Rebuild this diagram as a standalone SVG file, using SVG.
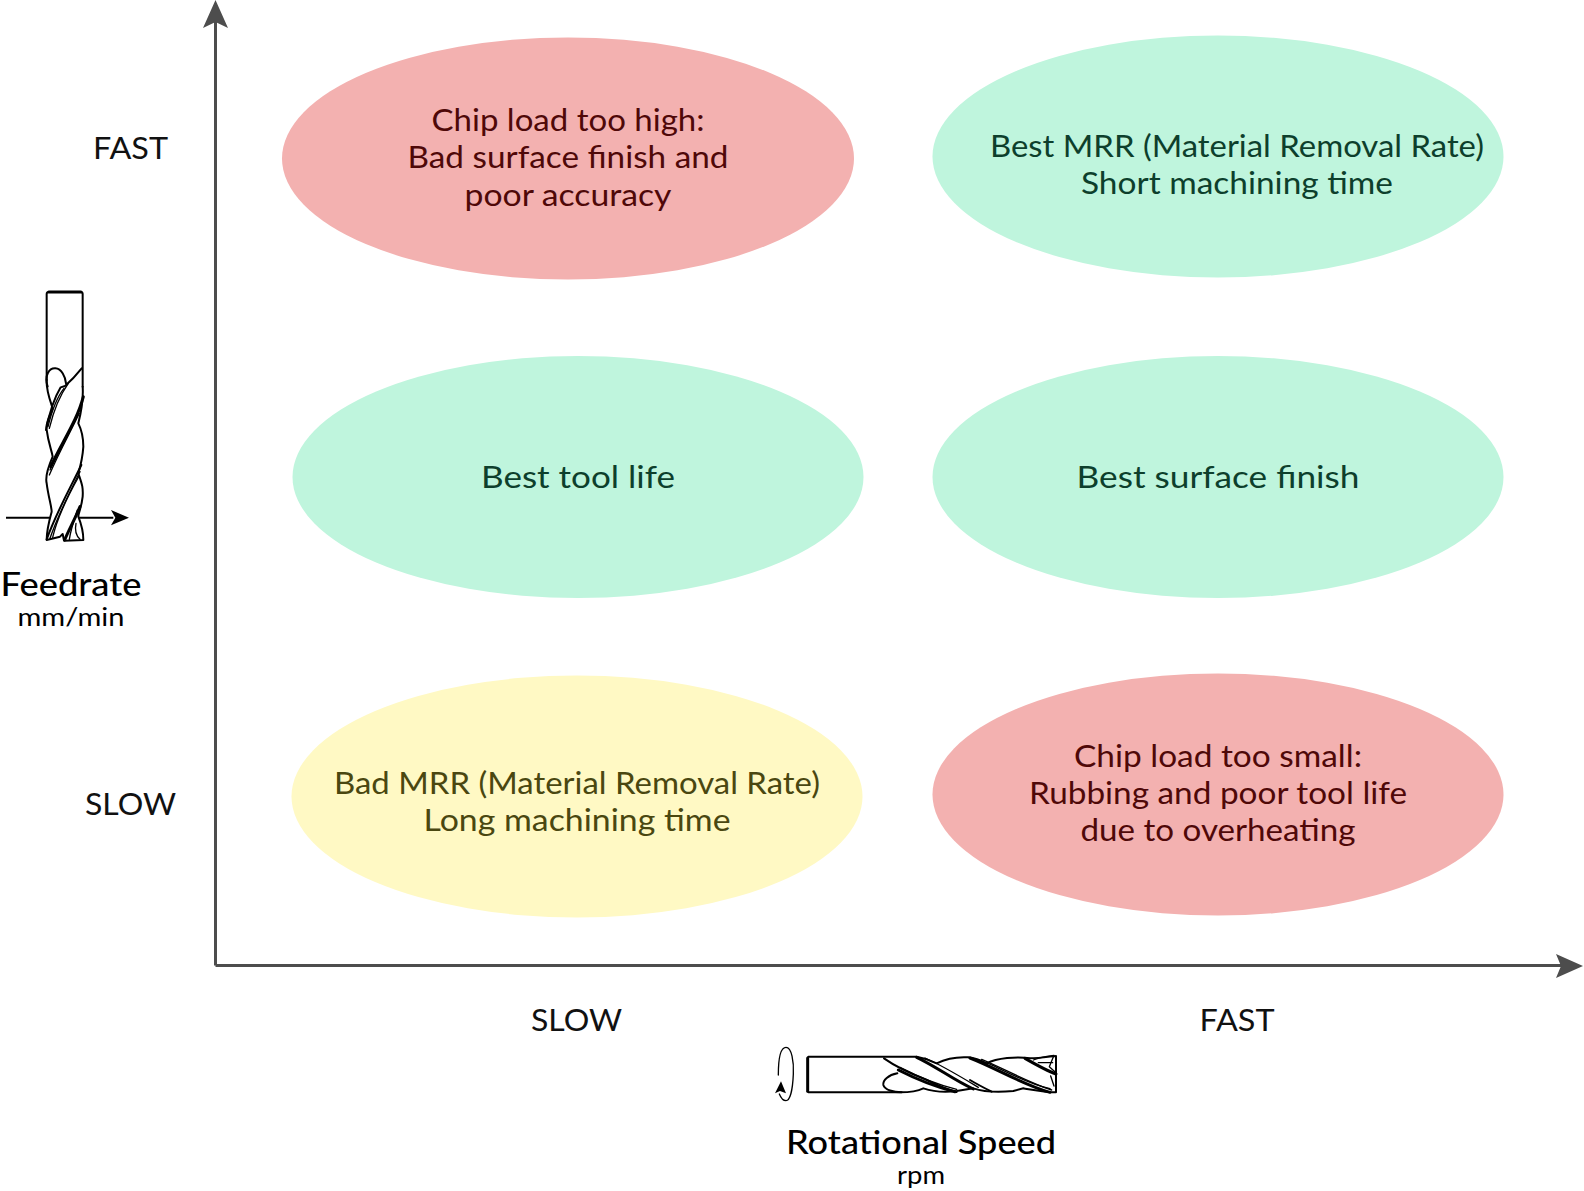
<svg xmlns="http://www.w3.org/2000/svg" width="1584" height="1191" viewBox="0 0 1584 1191">
<style>
text{font-family:"Lato","Open Sans","Liberation Sans",sans-serif;font-size:31px;text-anchor:middle}
.bad{fill:#f3b1b0}.good{fill:#bff5dd}.warn{fill:#fff9c4}
.tb{fill:#4f0808}.tg{fill:#0d3f2c}.ty{fill:#4a4710}.tk{fill:#111}
.h{font-weight:500;font-size:33px;fill:#000}.u{font-size:25px;fill:#000}
.axis{fill:none;stroke:#4d4d4d;stroke-width:3}
.t{fill:none;stroke:#000;stroke-width:6;stroke-linecap:round;stroke-linejoin:round}
.t2{stroke-width:4}.t3{stroke-width:9}.w{fill:#fff;stroke:none}
</style>
<g id="connectors">
<path class="axis" d="M215.500 965.500V20"/><path fill="#4d4d4d" d="M215.500 0L228 28L215.500 22L203 28Z"/>
<path class="axis" d="M215.500 965.500H1562"/><path fill="#4d4d4d" d="M1583 966L1556 954L1561 966L1556 978Z"/>
</g>
<g id="node-high-chip"><ellipse class="bad" cx="568" cy="158.500" rx="286" ry="121"/>
<text class="tb" x="568" y="131" textLength="273" lengthAdjust="spacingAndGlyphs">Chip load too high:</text>
<text class="tb" x="568" y="168" textLength="321" lengthAdjust="spacingAndGlyphs">Bad surface finish and</text>
<text class="tb" x="568" y="206" textLength="207" lengthAdjust="spacingAndGlyphs">poor accuracy</text></g>
<g id="node-best-mrr"><ellipse class="good" cx="1218" cy="156.500" rx="285.500" ry="121"/>
<text class="tg" x="1237" y="157" textLength="494" lengthAdjust="spacingAndGlyphs">Best MRR (Material Removal Rate)</text>
<text class="tg" x="1237" y="194" textLength="312" lengthAdjust="spacingAndGlyphs">Short machining time</text></g>
<g id="node-tool-life"><ellipse class="good" cx="578" cy="477" rx="285.500" ry="121"/>
<text class="tg" x="578" y="487.500" textLength="194" lengthAdjust="spacingAndGlyphs">Best tool life</text></g>
<g id="node-surface"><ellipse class="good" cx="1218" cy="477" rx="285.500" ry="121"/>
<text class="tg" x="1218" y="487.500" textLength="283" lengthAdjust="spacingAndGlyphs">Best surface finish</text></g>
<g id="node-bad-mrr"><ellipse class="warn" cx="577" cy="796.500" rx="285.500" ry="121"/>
<text class="ty" x="577" y="794" textLength="486" lengthAdjust="spacingAndGlyphs">Bad MRR (Material Removal Rate)</text>
<text class="ty" x="577" y="831" textLength="307" lengthAdjust="spacingAndGlyphs">Long machining time</text></g>
<g id="node-low-chip"><ellipse class="bad" cx="1218" cy="794.500" rx="285.500" ry="121"/>
<text class="tb" x="1218" y="767" textLength="288" lengthAdjust="spacingAndGlyphs">Chip load too small:</text>
<text class="tb" x="1218" y="804" textLength="378" lengthAdjust="spacingAndGlyphs">Rubbing and poor tool life</text>
<text class="tb" x="1218" y="841" textLength="275" lengthAdjust="spacingAndGlyphs">due to overheating</text></g>
<g id="axis-labels">
<text class="tk" x="130.500" y="159" textLength="75" lengthAdjust="spacingAndGlyphs">FAST</text>
<text class="tk" x="130.500" y="815" textLength="91" lengthAdjust="spacingAndGlyphs">SLOW</text>
<text class="tk" x="576.500" y="1031" textLength="91" lengthAdjust="spacingAndGlyphs">SLOW</text>
<text class="tk" x="1237" y="1031" textLength="75" lengthAdjust="spacingAndGlyphs">FAST</text>
<text class="h" x="71" y="596" textLength="141" lengthAdjust="spacingAndGlyphs">Feedrate</text>
<text class="u" x="71" y="626" textLength="107" lengthAdjust="spacingAndGlyphs">mm/min</text>
<text class="h" x="921" y="1154" textLength="270" lengthAdjust="spacingAndGlyphs">Rotational Speed</text>
<text class="u" x="921" y="1183.500" textLength="48" lengthAdjust="spacingAndGlyphs">rpm</text>
</g>
<g id="feed-tool" transform="translate(0 280) scale(.33333)">
<path fill="none" stroke="#000" stroke-width="6" d="M18 713H340"/><path d="M387 713L333 690L346 713L333 736Z"/>
<path class="w" d="M140 300C138 330 150 360 158 385C150 410 135 430 140 450C145 490 155 510 158 530C145 560 135 590 140 610C145 650 155 680 155 695C148 720 140 750 140 780H250C250 760 245 735 235 710C235 700 245 680 248 650C250 620 245 610 235 580C238 570 248 530 250 500C250 480 245 450 235 430C245 390 250 350 248 300Z"/>
<path class="t" d="M140 300V42Q140 36 146 36H242Q248 36 248 42V320"/><path class="t t3" d="M146 36H243" stroke-width="10"/>
<path class="t" d="M143 320C132 285 148 264 166 265C185 266 196 290 198 310"/>
<path class="t" d="M140 300C138 330 150 360 158 385C150 410 135 430 140 450C145 490 155 510 158 530C145 560 135 590 140 610C145 650 155 680 155 695C148 720 140 750 140 780L180 770L188 762L192 782L250 780C250 760 245 735 235 710C235 700 245 680 248 650C250 620 245 610 235 580C238 570 248 530 250 500C250 480 245 450 235 430C245 390 250 350 248 320"/>
<path class="t" d="M245 265C225 290 210 305 195 318L182 322C165 350 148 400 138 450"/>
<path class="t t2" d="M205 310C180 345 160 395 148 445"/>
<path class="t t2" d="M192 325C172 350 155 395 144 440"/>
<path class="t t3" d="M250 350C232 420 190 480 152 560"/>
<path class="t t2" d="M238 400C212 455 178 515 148 585"/>
<path class="t t2" d="M244 375C220 440 185 495 150 570"/>
<path class="t" d="M244 555C218 610 172 690 140 778"/>
<path class="t t2" d="M240 575C212 630 176 700 150 775"/><path class="t t2" d="M236 590C208 640 174 705 158 772"/>
<path class="t t3" d="M240 680C226 715 206 750 194 780" stroke-width="10"/>
<path class="t t2" d="M232 690C222 720 212 750 208 778"/>
<path class="t t2" d="M228 730C224 750 226 765 240 778"/>
</g>
<g id="spin-tool" transform="translate(760 1030) scale(.33333)">
<path class="t t2" d="M55 135C55 85 62 52 78 52C95 52 102 95 100 132C98 180 90 212 78 212C70 212 62 202 58 192"/>
<path d="M63 154L45 190L60 183L78 190Z"/>
<path class="t" d="M145 80H470C500 85 520 95 530 100C560 85 590 80 625 82C650 85 670 95 680 100C710 85 770 78 810 85C840 85 880 78 888 78V187C860 187 820 180 790 175L760 183C720 187 670 185 640 175L590 183C560 187 520 185 490 175C480 180 460 187 420 187H145"/>
<path class="t t3" d="M143 84V184"/>
<path class="t" d="M412 130C385 135 368 150 370 165C375 180 400 187 425 187"/>
<path class="t" d="M372 85C410 112 450 130 500 150C530 165 560 178 590 186"/>
<path class="t t3" d="M415 120C470 148 530 172 585 185" stroke-width="7"/>
<path class="t t2" d="M420 112C475 140 535 165 590 178"/>
<path class="t t3" d="M470 82C530 110 580 150 640 177" stroke-width="10"/>
<path class="t t2" d="M495 84C550 108 610 145 655 172"/>
<path class="t t3" d="M630 84C710 115 790 165 870 187" stroke-width="8"/>
<path class="t t2" d="M665 88C730 115 800 155 875 180"/><path class="t t2" d="M685 100C740 125 800 160 870 176"/>
<path class="t" d="M630 150C655 165 675 175 695 185"/>
<path class="t t3" d="M795 85C830 105 860 122 888 132" stroke-width="8"/>
<path class="t t2" d="M820 90C840 82 860 78 882 76L868 110L888 128M872 138L882 168M835 98H878"/>
</g>
</svg>
